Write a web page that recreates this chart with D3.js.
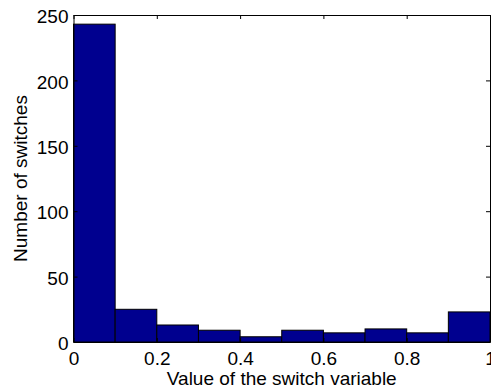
<!DOCTYPE html>
<html>
<head>
<meta charset="utf-8">
<script src="https://cdn.jsdelivr.net/npm/d3@7"></script>
<style>
  body { margin: 0; background: #fff; }
  text { font-family: "Liberation Sans", Arial, sans-serif; fill: #000; }
</style>
</head>
<body>
<div id="chart"></div>
<script>
// histogram bins (left edges) and counts
var binStarts = [0, 0.1, 0.2, 0.3, 0.4, 0.5, 0.6, 0.7, 0.8, 0.9];
var counts = [243, 25, 13, 9, 4, 9, 7, 10, 7, 23];
var xTicks = [0, 0.2, 0.4, 0.6, 0.8, 1];
var yTicks = [0, 50, 100, 150, 200, 250];

(function () {
    var width = 491, height = 388;
    var plotLeft = 73.5, plotRight = 490, plotTop = 15, plotBottom = 342;
    var fontSize = 19;

    var svg = d3.select("#chart").append("svg")
        .attr("width", width)
        .attr("height", height);

    var x = d3.scaleLinear().domain([0, 1]).range([plotLeft, plotRight]);
    var y = d3.scaleLinear().domain([0, 250]).range([plotBottom, plotTop]);

    // bars
    svg.selectAll("rect.bar")
        .data(counts)
        .enter().append("rect")
        .attr("class", "bar")
        .attr("x", function (d, i) { return x(binStarts[i]); })
        .attr("y", function (d) { return y(d); })
        .attr("width", function (d, i) { return x(binStarts[i] + 0.1) - x(binStarts[i]); })
        .attr("height", function (d) { return y(0) - y(d); })
        .attr("fill", "#00008f")
        .attr("stroke", "#000")
        .attr("stroke-width", 1);

    // bottom axis, ticks drawn inward
    var xAxis = svg.append("g")
        .attr("transform", "translate(0," + plotBottom + ")")
        .call(d3.axisBottom(x).tickValues(xTicks).tickSizeInner(-4).tickSizeOuter(0)
            .tickFormat(function (d) { return d === 0 || d === 1 ? d : d3.format(".1f")(d); }));
    xAxis.selectAll("text").attr("font-size", fontSize).attr("y", 23).attr("dy", 0);

    var yAxis = svg.append("g")
        .attr("transform", "translate(" + plotLeft + ",0)")
        .call(d3.axisLeft(y).tickValues(yTicks).tickSizeInner(-4).tickSizeOuter(0));
    yAxis.selectAll("text").attr("font-size", fontSize).attr("x", -5).attr("dy", "0.4em");

    // mirrored ticks on top and right
    svg.append("g")
        .attr("transform", "translate(0," + plotTop + ")")
        .call(d3.axisTop(x).tickValues(xTicks).tickSizeInner(-4).tickSizeOuter(0).tickFormat(""));
    svg.append("g")
        .attr("transform", "translate(" + plotRight + ",0)")
        .call(d3.axisRight(y).tickValues(yTicks).tickSizeInner(-4).tickSizeOuter(0).tickFormat(""));

    svg.selectAll(".domain, .tick line").attr("stroke", "#000");

    // axis labels
    svg.append("text")
        .attr("x", (plotLeft + plotRight) / 2)
        .attr("y", 385)
        .attr("text-anchor", "middle")
        .attr("font-size", fontSize)
        .text("Value of the switch variable");

    svg.append("text")
        .attr("transform", "translate(27," + ((plotTop + plotBottom) / 2) + ") rotate(-90)")
        .attr("text-anchor", "middle")
        .attr("font-size", fontSize)
        .text("Number of switches");
})();
</script>
</body>
</html>
